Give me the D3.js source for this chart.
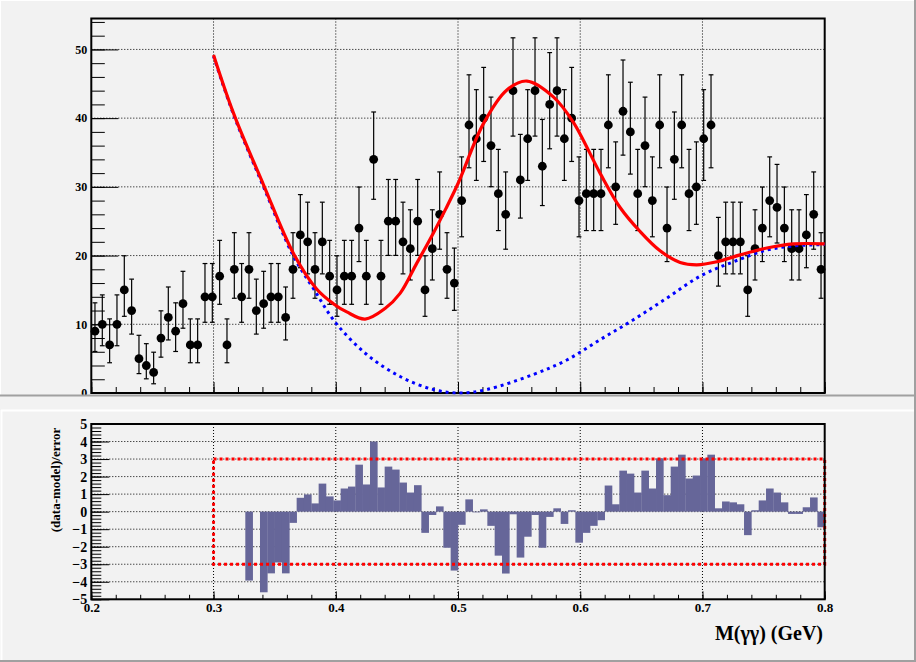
<!DOCTYPE html>
<html>
<head>
<meta charset="utf-8">
<script src="https://cdn.jsdelivr.net/npm/d3@7"></script>
<style>
  body { margin: 0; background: #f2f2f2; }
  svg { display: block; }
</style>
</head>
<body>
<div id="space"></div>
<script>
// Declare constants
const CANVAS_W = 916;
const CANVAS_H = 662;
const PAD_COLOR = "#f2f2f2";
const SHADOW_COLOR = "#a0a0a0";
const BAR_COLOR = "#666699";
const FONT = "'Liberation Serif', 'DejaVu Serif', serif";

// Frame edges of both pads, in pixels
const FRAME_LEFT = 91.3;
const FRAME_RIGHT = 824.7;
const TOP_FRAME = [18.5, 393];
const LOW_FRAME = [424, 599.3];

// Histogram binning of M(gamma gamma)
const X_MIN = 0.2;
const X_MAX = 0.8;
const N_BINS = 100;
const FIT_MIN = 0.3;
const Y_TOP_MAX = 54.5;
const PULL_RANGE = [-5, 5];
const PULL_BAND = [-3, 3];

// Events per bin
const counts = [
  9, 10, 7, 10, 15, 12, 5, 4, 3, 8,
  11, 9, 13, 7, 7, 14, 14, 17, 7, 18,
  14, 18, 12, 13, 14, 14, 11, 18, 23, 22,
  18, 22, 17, 15, 17, 17, 24, 17, 34, 17,
  25, 25, 22, 21, 25, 15, 21, 26, 18, 16,
  28, 39, 37, 40, 36, 29, 26, 44, 31, 37,
  44, 33, 42, 44, 37, 40, 28, 29, 29, 29,
  39, 30, 41, 38, 29, 36, 28, 39, 24, 34,
  39, 29, 30, 37, 39, 20, 22, 22, 22, 15,
  21, 24, 28, 27, 24, 21, 21, 23, 26, 18,
];

// (data-model)/error per bin, null where no bar is drawn
const pulls = [
  null, null, null, null, null, null, null, null, null, null,
  null, null, null, null, null, null, null, null, null, null,
  null, -3.93, null, -4.6, -3.52, -2.9, -3.52, -0.64, 0.79, 0.98,
  0.47, 1.6, 0.87, 0.64, 1.32, 1.43, 2.68, 1.55, 4.0, 1.38,
  2.57, 2.4, 1.66, 1.09, 1.51, -1.21, -0.19, 0.3, -2.06, -3.36,
  -0.75, 0.7, -0.04, 0.13, -0.81, -2.51, -3.53, -0.15, -2.62, -1.43,
  -0.19, -2.06, -0.3, 0.19, -0.7, 0.08, -1.77, -1.21, -0.81, -0.49,
  1.49, 0.42, 2.34, 2.17, 1.09, 2.34, 1.32, 3.04, 0.94, 2.57,
  3.25, 1.89, 2.06, 3.04, 3.25, 0.19, 0.58, 0.53, 0.42, -1.34,
  0.08, 0.64, 1.32, 1.09, 0.53, -0.13, -0.13, 0.25, 0.81, -0.89,
];

// Total model (red)
const fitMass = [0.3, 0.3164, 0.3409, 0.3654, 0.3845, 0.398, 0.409,
  0.424, 0.4403, 0.4526, 0.4663, 0.4799, 0.49, 0.5003, 0.5208, 0.54, 0.5564,
  0.578, 0.5944, 0.6162, 0.6326, 0.649, 0.6653, 0.6817, 0.6954, 0.7118,
  0.7308, 0.7527, 0.7745, 0.8];
const fitValue = [49.2, 40.7, 30.3, 20.3, 15.1, 13.0, 11.8,
  10.76, 12.3, 14.5, 18.9, 23.3, 26.8, 30.6, 39.2, 44.1, 45.4,
  43.1, 39.4, 32.0, 27.0, 23.5, 20.7, 19.0, 18.65, 19.1,
  20.1, 21.1, 21.7, 21.7];

// Background component (blue dashed)
const bkgMass = [0.3, 0.3164, 0.3409, 0.3654, 0.3817, 0.4, 0.4254,
  0.4526, 0.4799, 0.5017, 0.5235, 0.5617, 0.589, 0.6162, 0.6435, 0.6708,
  0.6981, 0.7254, 0.7527, 0.7745, 0.8];
const bkgValue = [49.0, 40.5, 30.0, 19.9, 15.2, 10.2, 5.6,
  2.4, 0.5, 0.0, 0.5, 2.7, 4.8, 7.75, 10.66, 13.8,
  17.0, 19.1, 20.8, 21.4, 21.6];

// Tick labels
const xTicks = [0.2, 0.3, 0.4, 0.5, 0.6, 0.7, 0.8];
const xGrid = [0.3, 0.4, 0.5, 0.6, 0.7];
const yTopTicks = [0, 10, 20, 30, 40, 50];
const pullTicks = [-5, -4, -3, -2, -1, 0, 1, 2, 3, 4, 5];
const pullGrid = [-4, -3, -2, -1, 0, 1, 2, 3, 4];

const X_TITLE = "M(\u03b3\u03b3) (GeV)";
const Y_LOW_TITLE = "(data-model)/error";

var svg;
var x;
var binWidth = (X_MAX - X_MIN) / N_BINS;

init();

/**
 * Builds the canvas and draws both pads
 */
function init() {
  svg = d3
    .select("#space")
    .append("svg")
    .attr("width", CANVAS_W)
    .attr("height", CANVAS_H)
    .style("background-color", PAD_COLOR);

  x = d3.scaleLinear().domain([X_MIN, X_MAX]).range([FRAME_LEFT, FRAME_RIGHT]);

  // Clip the upper pad at its lower border
  var defs = svg.append("defs");
  defs.append("clipPath").attr("id", "topPad")
    .append("rect").attr("x", 0).attr("y", 0)
    .attr("width", CANVAS_W).attr("height", 395);
  defs.append("clipPath").attr("id", "lowFrame")
    .append("rect").attr("x", FRAME_LEFT).attr("y", LOW_FRAME[0])
    .attr("width", FRAME_RIGHT - FRAME_LEFT)
    .attr("height", LOW_FRAME[1] - LOW_FRAME[0]);

  drawTopPad();
  drawLowPad();
  drawBorders();
}

/**
 * Draws the grid lines of one frame
 */
function drawGrid(g, y, yValues, frame) {
  g.selectAll("line.gx")
    .data(xGrid)
    .enter()
    .append("line")
    .attr("x1", (d) => x(d))
    .attr("x2", (d) => x(d))
    .attr("y1", frame[0])
    .attr("y2", frame[1])
    .attr("stroke", "#000")
    .attr("stroke-dasharray", "1,2");
  g.selectAll("line.gy")
    .data(yValues)
    .enter()
    .append("line")
    .attr("x1", FRAME_LEFT)
    .attr("x2", FRAME_RIGHT)
    .attr("y1", (d) => y(d))
    .attr("y2", (d) => y(d))
    .attr("stroke", "#000")
    .attr("stroke-dasharray", "1,2");
}

/**
 * Draws ticks (major and minor) along the left and bottom axes
 */
function drawAxes(g, y, frame, opts) {
  // Minor ticks on y
  g.append("g")
    .attr("transform", `translate(${FRAME_LEFT},0)`)
    .call(d3.axisLeft(y).ticks(opts.yMinorCount).tickSize(-opts.yMinor).tickFormat(""))
    .call((a) => a.select(".domain").remove());
  // Major ticks on y with labels
  g.append("g")
    .attr("transform", `translate(${FRAME_LEFT},0)`)
    .call(
      d3.axisLeft(y)
        .tickValues(opts.yValues)
        .tickSize(-opts.yMajor)
        .tickPadding(4)
        .tickFormat((d) => (d < 0 ? "\u2212" + Math.abs(d) : d))
    )
    .call((a) => a.select(".domain").remove())
    .selectAll("text")
    .style("font-family", FONT)
    .style("font-weight", "bold")
    .style("font-size", opts.yFont + "px")
    .attr("fill", "#000");

  // Minor ticks on x
  g.append("g")
    .attr("transform", `translate(0,${frame[1]})`)
    .call(d3.axisBottom(x).ticks(30).tickSize(-opts.xMinor).tickFormat(""))
    .call((a) => a.select(".domain").remove());
  // Major ticks on x
  var xa = g.append("g")
    .attr("transform", `translate(0,${frame[1]})`)
    .call(
      d3.axisBottom(x)
        .tickValues(xTicks)
        .tickSize(-opts.xMajor)
        .tickPadding(3)
        .tickFormat((d, i) => (opts.xLabels ? xTicks[i].toFixed(1) : ""))
    )
    .call((a) => a.select(".domain").remove());
  xa.selectAll("text")
    .style("font-family", FONT)
    .style("font-weight", "bold")
    .style("font-size", "13px")
    .attr("fill", "#000");

  g.selectAll(".tick line").attr("stroke", "#000");

  // Frame
  g.append("rect")
    .attr("x", FRAME_LEFT)
    .attr("y", frame[0])
    .attr("width", FRAME_RIGHT - FRAME_LEFT)
    .attr("height", frame[1] - frame[0])
    .attr("fill", "none")
    .attr("stroke", "#000")
    .attr("stroke-width", 2);
}

/**
 * Upper pad: data points with Poisson errors, total fit and background
 */
function drawTopPad() {
  var g = svg.append("g").attr("clip-path", "url(#topPad)");
  var y = d3.scaleLinear().domain([0, Y_TOP_MAX]).range([TOP_FRAME[1], TOP_FRAME[0]]);

  drawGrid(g, y, yTopTicks.slice(1), TOP_FRAME);
  drawAxes(g, y, TOP_FRAME, {
    yValues: yTopTicks, yMinorCount: 27, yMajor: 27, yMinor: 13.5,
    yFont: 12, xMajor: 11, xMinor: 6, xLabels: false,
  });

  var points = counts.map((n, i) => ({
    m: X_MIN + (i + 0.5) * binWidth,
    n: n,
    // Poisson 68% interval (Gehrels approximation)
    lo: n - Math.sqrt(n - 0.25),
    hi: n + Math.sqrt(n + 0.75) + 1,
  }));

  var pts = g.append("g");
  pts.selectAll("line.err")
    .data(points)
    .enter()
    .append("line")
    .attr("x1", (d) => x(d.m))
    .attr("x2", (d) => x(d.m))
    .attr("y1", (d) => y(d.lo))
    .attr("y2", (d) => y(d.hi))
    .attr("stroke", "#000")
    .attr("stroke-width", 1.2);
  ["lo", "hi"].forEach(function (k) {
    pts.selectAll("line.cap" + k)
      .data(points)
      .enter()
      .append("line")
      .attr("x1", (d) => x(d.m) - 2.4)
      .attr("x2", (d) => x(d.m) + 2.4)
      .attr("y1", (d) => y(d[k]))
      .attr("y2", (d) => y(d[k]))
      .attr("stroke", "#000")
      .attr("stroke-width", 1.2);
  });
  pts.selectAll("circle")
    .data(points)
    .enter()
    .append("circle")
    .attr("cx", (d) => x(d.m))
    .attr("cy", (d) => y(d.n))
    .attr("r", 4.4)
    .attr("fill", "#000");

  var line = d3.line()
    .x((d) => x(d[0]))
    .y((d) => y(d[1]))
    .curve(d3.curveCatmullRom.alpha(0.5));

  // Background component
  g.append("path")
    .attr("d", line(d3.zip(bkgMass, bkgValue)))
    .attr("fill", "none")
    .attr("stroke", "#0000ff")
    .attr("stroke-width", 3)
    .attr("stroke-dasharray", "3,4");

  // Total model
  g.append("path")
    .attr("d", line(d3.zip(fitMass, fitValue)))
    .attr("fill", "none")
    .attr("stroke", "#ff0000")
    .attr("stroke-width", 3.2);
}

/**
 * Lower pad: pull histogram with the +-3 band
 */
function drawLowPad() {
  var g = svg.append("g");
  var y = d3.scaleLinear().domain(PULL_RANGE).range([LOW_FRAME[1], LOW_FRAME[0]]);

  drawGrid(g, y, pullGrid, LOW_FRAME);

  var bars = pulls
    .map((p, i) => ({ lo: X_MIN + i * binWidth, p: p }))
    .filter((d) => d.p !== null);

  g.append("g")
    .attr("clip-path", "url(#lowFrame)")
    .selectAll("rect")
    .data(bars)
    .enter()
    .append("rect")
    .attr("x", (d) => x(d.lo))
    .attr("width", x(X_MIN + binWidth) - x(X_MIN) + 0.3)
    .attr("y", (d) => y(Math.max(0, d.p)))
    .attr("height", (d) => Math.abs(y(d.p) - y(0)))
    .attr("fill", BAR_COLOR);

  // Band of +-3 over the fit range
  g.append("rect")
    .attr("x", x(FIT_MIN))
    .attr("y", y(PULL_BAND[1]))
    .attr("width", x(X_MAX) - x(FIT_MIN))
    .attr("height", y(PULL_BAND[0]) - y(PULL_BAND[1]))
    .attr("fill", "none")
    .attr("stroke", "#ff0000")
    .attr("stroke-width", 3)
    .attr("stroke-dasharray", "3,3");

  drawAxes(g, y, LOW_FRAME, {
    yValues: pullTicks, yMinorCount: 50, yMajor: 18, yMinor: 10,
    yFont: 14, xMajor: 8, xMinor: 4.5, xLabels: true,
  });

  // Axis titles
  g.append("text")
    .attr("x", 823)
    .attr("y", 640)
    .attr("text-anchor", "end")
    .style("font-family", FONT)
    .style("font-weight", "bold")
    .style("font-size", "20px")
    .text(X_TITLE);

  g.append("text")
    .attr("transform", "translate(60,480) rotate(-90)")
    .attr("text-anchor", "middle")
    .style("font-family", FONT)
    .style("font-weight", "bold")
    .style("font-size", "13px")
    .text(Y_LOW_TITLE);
}

/**
 * Bevel borders of the pads
 */
function drawBorders() {
  var lines = [
    // light edges
    [0, 0.5, CANVAS_W, 0.5, "#ffffff", 1],
    [0.5, 0, 0.5, 395, "#ffffff", 1],
    [1, 410.5, 914, 410.5, "#ffffff", 2],
    [1.5, 410, 1.5, 660, "#ffffff", 2],
    // dark edges
    [0, 395.5, CANVAS_W, 395.5, SHADOW_COLOR, 2],
    [915, 0, 915, CANVAS_H, SHADOW_COLOR, 2],
    [0, 661, CANVAS_W, 661, SHADOW_COLOR, 2],
  ];
  svg.selectAll("line.border")
    .data(lines)
    .enter()
    .append("line")
    .attr("x1", (d) => d[0])
    .attr("y1", (d) => d[1])
    .attr("x2", (d) => d[2])
    .attr("y2", (d) => d[3])
    .attr("stroke", (d) => d[4])
    .attr("stroke-width", (d) => d[5]);
}
</script>
</body>
</html>
